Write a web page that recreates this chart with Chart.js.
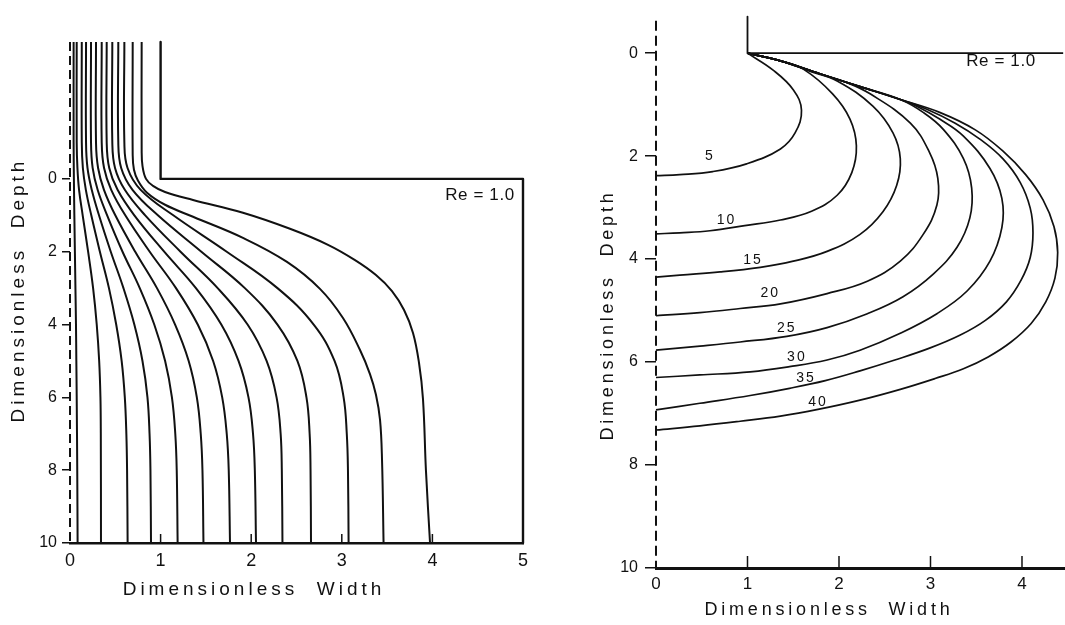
<!DOCTYPE html>
<html><head><meta charset="utf-8">
<script src="https://cdn.jsdelivr.net/npm/chart.js@4.4.1/dist/chart.umd.min.js"></script>
<style>
html,body{margin:0;padding:0;background:#fff;width:1065px;height:625px;overflow:hidden}
#cl{position:absolute;left:0;top:0}
#cr{position:absolute;left:560px;top:0}
</style></head><body>
<canvas id="cl" width="545" height="625"></canvas>
<canvas id="cr" width="505" height="625"></canvas>
<script>
// ---------- data: points are [dimensionless width, dimensionless depth] ----------
const leftWidthTicks = [0,1,2,3,4,5];
const leftDepthTicks = [0,2,4,6,8,10];
const rightWidthTicks = [0,1,2,3,4];
const rightDepthTicks = [0,2,4,6,8,10];
const leftInnerTicks = [1,2,3,4];
const rightInnerTicks = [1,2,3,4];

const leftAxisLine = [[0,-3.76],[0,10]];
const rightAxisLine = [[0,-0.63],[0,10]];
const leftWall = [[1,-3.76],[1,0],[5,0],[5,10]];
const rightWall = [[1,-0.71],[1,0],[4.45,0]];

// streamlines, left panel
const s1 = [[0.04,-3.76],[0.04,-1],[0.043,0],[0.048,1],[0.054,2],[0.06,3],[0.066,4],[0.07,5],[0.074,6],[0.08,8],[0.084,10]];
const s2 = [[0.074,-3.76],[0.074,-1],[0.082,-0.3],[0.10,0.3],[0.14,1],[0.20,2],[0.255,3],[0.295,4],[0.322,5],[0.336,6],[0.34,7],[0.342,10]];
const s3 = [[0.13,-3.76],[0.13,-1],[0.142,-0.3],[0.175,0.3],[0.235,1],[0.33,2],[0.43,3],[0.51,4],[0.57,5],[0.605,6],[0.622,7],[0.63,8],[0.636,10]];
const s4 = [[0.177,-3.76],[0.177,-1],[0.193,-0.3],[0.24,0.3],[0.32,1],[0.45,2],[0.59,3],[0.71,4],[0.80,5],[0.855,6],[0.878,7],[0.888,8],[0.894,10]];
const s5 = [[0.232,-3.76],[0.232,-1],[0.25,-0.3],[0.305,0.3],[0.41,1],[0.58,2],[0.77,3],[0.93,4],[1.05,5],[1.125,6],[1.162,7],[1.178,8],[1.188,10]];
const s6 = [[0.287,-3.76],[0.287,-1],[0.31,-0.3],[0.375,0.3],[0.50,1],[0.72,2],[0.96,3],[1.16,4],[1.31,5],[1.40,6],[1.443,7],[1.462,8],[1.473,10]];
const s7 = [[0.35,-3.76],[0.35,-1],[0.376,-0.3],[0.455,0.3],[0.61,1],[0.88,2],[1.17,3],[1.41,4],[1.58,5],[1.68,6],[1.73,7],[1.752,8],[1.766,10]];
const s8 = [[0.405,-3.76],[0.405,-1],[0.433,-0.3],[0.525,0.3],[0.71,1],[1.04,2],[1.39,3],[1.67,4],[1.86,5],[1.97,6],[2.02,7],[2.04,8],[2.053,10]];
const s9 = [[0.467,-3.76],[0.467,-1],[0.497,-0.3],[0.605,0.3],[0.83,1],[1.22,2],[1.63,3],[1.96,4],[2.17,5],[2.28,6],[2.325,7],[2.338,8],[2.345,10]];
const s10 = [[0.533,-3.76],[0.533,-1],[0.565,-0.3],[0.69,0.3],[0.97,1],[1.45,2],[1.93,3],[2.29,4],[2.51,5],[2.61,6],[2.645,7],[2.655,8],[2.66,10]];
const s11 = [[0.60,-3.76],[0.60,-1],[0.635,-0.3],[0.78,0.3],[1.14,1],[1.73,2],[2.29,3],[2.69,4],[2.92,5],[3.02,6],[3.055,7],[3.068,8],[3.075,10]];
const s12 = [[0.692,-3.76],[0.692,-0.66],[0.706,-0.25],[0.751,0.05],[0.850,0.38],[1.049,0.71],[1.358,1.04],[1.909,1.62],[2.395,2.28],[2.759,3.02],[3.013,3.82],[3.201,4.70],[3.311,5.36],[3.377,5.93],[3.422,6.62],[3.444,7.72],[3.461,10]];
const s13 = [[0.791,-3.76],[0.791,-0.80],[0.800,-0.36],[0.839,0],[0.916,0.19],[1.049,0.36],[1.358,0.58],[1.909,0.93],[2.428,1.37],[2.848,1.81],[3.146,2.23],[3.377,2.64],[3.554,3.08],[3.687,3.60],[3.786,4.23],[3.852,5.05],[3.896,6.04],[3.929,8.02],[3.974,10]];
const streamlines = [s1,s2,s3,s4,s5,s6,s7,s8,s9,s10,s11,s12,s13];

// isochrones, right panel
const isochroneTimes = [5,10,15,20,25,30,35,40];
const iso5 = [[1,0],[1.28,0.33],[1.50,0.71],[1.59,1.11],[1.52,1.55],[1.36,1.86],[0.99,2.15],[0.62,2.30],[0.26,2.36],[0,2.38]];
const iso10 = [[1,0],[1.36,0.15],[1.61,0.31],[1.93,0.79],[2.12,1.28],[2.19,1.80],[2.14,2.32],[1.98,2.76],[1.70,3.07],[1.36,3.24],[0.97,3.35],[0.59,3.45],[0.26,3.49],[0,3.51]];
const iso15 = [[1,0],[1.36,0.15],[1.68,0.35],[1.98,0.54],[2.37,1.03],[2.59,1.55],[2.67,2.05],[2.63,2.57],[2.48,3.08],[2.23,3.52],[1.87,3.85],[1.50,4.04],[1.14,4.16],[0.70,4.25],[0.26,4.31],[0,4.35]];
const iso20 = [[1,0],[1.36,0.15],[1.79,0.40],[2.07,0.56],[2.34,0.79],[2.78,1.36],[2.99,1.93],[3.08,2.43],[3.07,2.95],[2.92,3.52],[2.67,4.04],[2.31,4.43],[1.87,4.67],[1.36,4.87],[0.92,4.96],[0.48,5.04],[0,5.10]];
const iso25 = [[1,0],[1.36,0.15],[1.79,0.40],[2.23,0.65],[2.67,0.90],[2.92,1.15],[3.14,1.48],[3.36,2.05],[3.45,2.62],[3.43,3.20],[3.29,3.77],[3.03,4.29],[2.70,4.73],[2.31,5.06],[1.87,5.33],[1.43,5.50],[0.92,5.61],[0.48,5.69],[0,5.77]];
const iso30 = [[1,0],[1.36,0.15],[1.79,0.40],[2.23,0.65],[2.67,0.90],[2.85,1.03],[3.10,1.28],[3.36,1.61],[3.65,2.24],[3.78,2.82],[3.78,3.39],[3.65,4.04],[3.40,4.62],[3.07,5.06],[2.67,5.44],[2.23,5.77],[1.87,5.96],[1.46,6.09],[1.03,6.19],[0.48,6.25],[0,6.30]];
const iso35 = [[1,0],[1.36,0.15],[1.79,0.40],[2.23,0.65],[2.67,0.90],[2.96,1.09],[3.27,1.36],[3.54,1.67],[3.79,2.05],[3.98,2.51],[4.09,3.01],[4.12,3.49],[4.09,3.97],[3.99,4.41],[3.83,4.83],[3.60,5.19],[3.32,5.48],[2.99,5.73],[2.61,5.96],[2.23,6.17],[1.85,6.36],[1.46,6.51],[1.03,6.65],[0.48,6.80],[0,6.93]];
const iso40 = [[1,0],[1.36,0.15],[1.79,0.40],[2.23,0.65],[2.67,0.90],[3.10,1.15],[3.49,1.49],[3.79,1.90],[4.04,2.36],[4.23,2.85],[4.35,3.37],[4.39,3.87],[4.36,4.37],[4.26,4.83],[4.10,5.25],[3.88,5.61],[3.63,5.90],[3.36,6.13],[3.05,6.32],[2.67,6.53],[2.23,6.74],[1.77,6.92],[1.36,7.05],[0.92,7.15],[0.48,7.24],[0,7.32]];
const isochrones = [iso5,iso10,iso15,iso20,iso25,iso30,iso35,iso40];
const isoLabelPos = [[0.59,2.01],[0.77,3.24],[1.06,4.02],[1.25,4.67],[1.43,5.34],[1.54,5.90],[1.64,6.32],[1.77,6.78]];

// ---------- helpers ----------
const INK = '#111';
const FONT = "'Liberation Sans', Arial, sans-serif";
const toXY = arr => arr.map(p => ({x:p[0], y:p[1]}));
const fixedTicks = list => (s => { s.ticks = list.map(v => ({value:v})); });

const decor = {
  id:'decor',
  afterDraw(chart, args, o){
    const ctx = chart.ctx, xs = chart.scales.x, ys = chart.scales.y;
    ctx.save();
    ctx.strokeStyle = INK; ctx.fillStyle = INK;
    ctx.lineWidth = o.tickWidth;
    o.innerTicks.forEach(v => {
      const px = xs.getPixelForValue(v);
      ctx.beginPath(); ctx.moveTo(px, ys.bottom); ctx.lineTo(px, ys.bottom - o.innerTickLen); ctx.stroke();
    });
    o.texts.forEach(t => {
      ctx.font = t.font;
      try { ctx.letterSpacing = (t.spacing||0) + 'px'; } catch(e){}
      ctx.textAlign = 'center'; ctx.textBaseline = 'middle';
      const x = t.data ? xs.getPixelForValue(t.x) : t.x;
      const y = t.data ? ys.getPixelForValue(t.y) : t.y;
      if (t.rotate) { ctx.save(); ctx.translate(x, y); ctx.rotate(-Math.PI/2); ctx.fillText(t.text, 0, 0); ctx.restore(); }
      else ctx.fillText(t.text, x, y);
    });
    try { ctx.letterSpacing = '0px'; } catch(e){}
    ctx.restore();
  }
};

function lineSet(pts, w, tension, dash){
  return {data:toXY(pts), showLine:true, borderColor:INK, borderWidth:w, borderDash:dash||[], pointRadius:0, pointHoverRadius:0,
    tension:tension, fill:false, borderCapStyle:'butt', borderJoinStyle:'round', clip:false};
}

function baseOptions(p){
  return {
    responsive:false, animation:false, devicePixelRatio:1, events:[],
    layout:{padding:p.padding, autoPadding:false},
    plugins:{legend:{display:false}, tooltip:{enabled:false}, decor:p.decor},
    scales:{
      x:{type:'linear', min:p.xMin, max:p.xMax, afterBuildTicks:fixedTicks(p.xTicks), afterFit:s=>{s.height=p.xHeight;},
        grid:{display:true, drawOnChartArea:false, drawTicks:false},
        border:{display:true, color:INK, width:p.xBorder},
        ticks:{color:INK, font:{family:FONT, size:p.xFont}, padding:p.xPad, maxRotation:0, autoSkip:false}},
      y:{type:'linear', reverse:true, min:p.yMin, max:p.yMax, afterBuildTicks:fixedTicks(p.yTicks), afterFit:s=>{s.width=p.yWidth;},
        grid:{display:true, drawOnChartArea:false, drawTicks:true, tickLength:p.yTickLen, color:INK, lineWidth:1.5},
        border:{display:false},
        ticks:{color:INK, font:{family:FONT, size:p.yFont}, padding:p.yPad, autoSkip:false}}
    }
  };
}

// ---------- left chart ----------
new Chart(document.getElementById('cl'), {
  type:'scatter',
  data:{datasets:[lineSet(leftAxisLine, 2, 0, [9,5]), ...streamlines.map(s => lineSet(s, 2, 0.4)), lineSet(leftWall, 2.4, 0)]},
  options:baseOptions({
    padding:{left:0, right:22, top:42, bottom:0},
    xMin:0, xMax:5, xTicks:leftWidthTicks, xHeight:82, xBorder:2.4, xFont:18, xPad:7,
    yMin:-3.76, yMax:10, yTicks:leftDepthTicks, yWidth:70, yTickLen:8, yFont:16, yPad:5,
    decor:{innerTicks:leftInnerTicks, innerTickLen:9, tickWidth:1.5, texts:[
      {text:'Re = 1.0', x:480, y:195, font:"17px "+FONT, spacing:0.6},
      {text:'Dimensionless  Width', x:254, y:590, font:"19px "+FONT, spacing:4},
      {text:'Dimensionless  Depth', x:19, y:290, font:"19px "+FONT, spacing:4, rotate:true}
    ]}
  }),
  plugins:[decor]
});

// ---------- right chart ----------
const isoTexts = isochroneTimes.map((t,i) => ({text:String(t), data:true, x:isoLabelPos[i][0], y:isoLabelPos[i][1], font:"14px "+FONT, spacing:2}));
new Chart(document.getElementById('cr'), {
  type:'scatter',
  data:{datasets:[lineSet(rightAxisLine, 2, 0, [10,5]), ...isochrones.map(s => lineSet(s, 1.7, 0.4)), lineSet(rightWall, 1.8, 0)]},
  options:baseOptions({
    padding:{left:0, right:0, top:9, bottom:0},
    xMin:0, xMax:4.47, xTicks:rightWidthTicks, xHeight:57, xBorder:3, xFont:17, xPad:6,
    yMin:-0.71, yMax:10, yTicks:rightDepthTicks, yWidth:96, yTickLen:11, yFont:16, yPad:7,
    decor:{innerTicks:rightInnerTicks, innerTickLen:12, tickWidth:1.5, texts:[
      ...isoTexts,
      {text:'Re = 1.0', x:441, y:61, font:"17px "+FONT, spacing:0.6},
      {text:'Dimensionless  Width', x:269, y:610, font:"18px "+FONT, spacing:3.8},
      {text:'Dimensionless  Depth', x:48, y:315, font:"18px "+FONT, spacing:3.8, rotate:true}
    ]}
  }),
  plugins:[decor]
});
</script>
</body></html>
